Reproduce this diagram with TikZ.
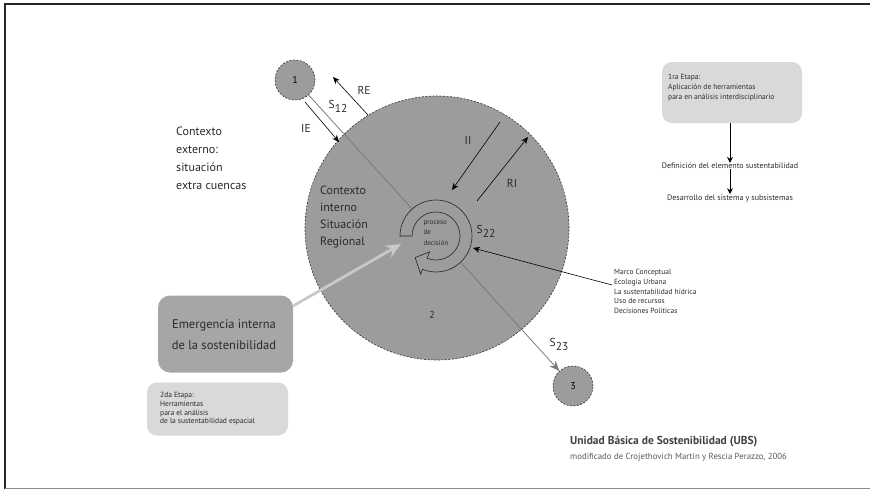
\documentclass[tikz,border=0pt]{standalone}
\usepackage{fontspec}
\setmainfont{PT Sans}
\usetikzlibrary{arrows.meta,calc}
\definecolor{cgray}{HTML}{9C9C9C}
\definecolor{egray}{HTML}{A6A6A6}
\definecolor{lgray}{HTML}{D9D9D9}
\definecolor{sgray}{HTML}{7A7A7A}
\definecolor{agray}{HTML}{C9C9C9}
\definecolor{tgray}{HTML}{2A2A2A}
\begin{document}
\begin{tikzpicture}[x=1pt,y=-1pt,
  bigc/.style={circle,draw=black!80,dash pattern=on 2pt off 1.5pt,fill=cgray,line width=0.6pt,inner sep=0},
  smallc/.style={circle,draw=black!80,dash pattern=on 2pt off 1.5pt,fill=cgray,line width=0.6pt,minimum size=40pt,inner sep=0,font=\fontsize{10}{12}\selectfont},
  flow/.style={draw=black,line width=0.6pt,-{Stealth[length=7pt,width=6pt]}},
  lbl/.style={inner sep=0,font=\fontsize{11.5}{13}\selectfont,text=tgray},
  small/.style={inner sep=0,align=left,anchor=north west,font=\fontsize{7.5}{10}\selectfont,text=tgray},
  lightbox/.style={fill=lgray,rounded corners=10pt,draw=none},
]
\useasboundingbox (0,0) rectangle (870,498);
% frame
\draw[line width=2.2pt,black!85] (5,489) -- (5,4) -- (870,4);
\draw[line width=0.8pt,black!45] (5,488) -- (870,488);

% big circle and small circles
\node[bigc,minimum size=264pt] (big) at (437,228) {};
\node[smallc] (c1) at (295,80) {1};
\node[smallc] (c3) at (573,386) {3};

% S line from 1 to 3
\draw[sgray,line width=0.8pt,-{Stealth[length=10pt,width=8pt]}] (c1) -- (c3);

% spiral (process of decision)
\coordinate (sp) at (436,236);
\fill[cgray] (sp) circle[radius=24];
\draw[fill=cgray,draw=black!85,line width=0.6pt]
  ($(sp)+(180:36)$) arc[start angle=180,end angle=472,radius=36]
  -- ($(sp)+(472:41)$) -- ($(sp)+(494:30)$) -- ($(sp)+(472:17)$)
  -- ($(sp)+(472:24)$) arc[start angle=472,end angle=180,radius=24] -- cycle;
\node[inner sep=0,align=left,font=\fontsize{7}{10.5}\selectfont,text=tgray] (proc) at (436,233) {proceso\\de\\decisión};

% arrows around circle 1
\coordinate (reA) at (368,115);
\coordinate (reB) at (333,77);
\draw[flow] (reA) -- (reB);
\coordinate (ieA) at (305,102);
\coordinate (ieB) at (339,142);
\draw[flow] (ieA) -- (ieB);
\node[lbl] (RE) at (364,90) {RE};
\node[lbl] (IE) at (306,128) {IE};
\node[lbl] (S12) at (338,106) {S\raisebox{-4pt}{12}};

% II and RI
\coordinate (iiA) at (500,122);
\coordinate (iiB) at (452,190);
\draw[flow] (iiA) -- (iiB);
\coordinate (riA) at (477,201);
\coordinate (riB) at (528,137);
\draw[flow] (riA) -- (riB);
\node[lbl] (II) at (468,140) {II};
\node[lbl] (RI) at (512,183) {RI};
\node[lbl] (S22) at (486,231) {S\raisebox{-4pt}{22}};
\node[lbl] (S23) at (559,344) {S\raisebox{-4pt}{23}};
\node[inner sep=0,font=\fontsize{10}{12}\selectfont,text=tgray] (two) at (432,315) {2};

% contexto texts
\node[inner sep=0,align=left,anchor=north west,font=\fontsize{12}{18}\selectfont,text=tgray] (ext) at (176,127)
  {Contexto\\externo:\\situación\\extra cuencas};
\node[inner sep=0,align=left,anchor=north west,font=\fontsize{12}{16.8}\selectfont,text=tgray] (int) at (320,186)
  {Contexto\\interno\\Situación\\Regional};

% 1ra etapa
\node[lightbox,minimum width=140pt,minimum height=61pt] (box1) at (732,92.5) {};
\node[small] (t1) at (668,74) {1ra Etapa:\\Aplicación de herramientas\\para en análisis interdisciplinario};
\node[inner sep=0,font=\fontsize{8}{10}\selectfont,text=tgray] (def) at (730,166) {Definición del elemento sustentabilidad};
\node[inner sep=0,font=\fontsize{8}{10}\selectfont,text=tgray] (des) at (730,198) {Desarrollo del sistema y subsistemas};
\draw[black,line width=1pt,-{Stealth[length=6pt,width=6pt]}] (box1.south -| def.north) -- (def.north);
\draw[black,line width=1pt,-{Stealth[length=6pt,width=6pt]}] (def.south) -- (des.north);

% Marco list
\node[small,font=\fontsize{7.5}{9.8}\selectfont] (marco) at (614,269)
  {Marco Conceptual\\Ecología Urbana\\La sustentabilidad hídrica\\Uso de recursos\\Decisiones Políticas};
\coordinate (mA) at (612,285);
\coordinate (mB) at (473,248);
\draw[flow] (mA) -- (mB);

% Emergencia box
\node[fill=egray,rounded corners=12pt,minimum width=135pt,minimum height=77pt,inner sep=0] (emer) at (225.5,334) {};
\node[inner sep=0,align=center,font=\fontsize{12.5}{21}\selectfont,text=tgray] (emt) at (224,335) {Emergencia interna\\de la sostenibilidad};
\coordinate (eA) at (293,306);
\coordinate (eB) at (401,244);
\draw[agray,line width=2.8pt,-{Stealth[length=15pt,width=13pt]}] (eA) -- (eB);

% 2da etapa
\node[lightbox,minimum width=141pt,minimum height=53pt] (box2) at (217.5,409) {};
\node[small,font=\fontsize{7.5}{8.8}\selectfont] (t2) at (160,392) {2da Etapa:\\Herramientas\\para el análisis\\de la sustentabilidad espacial};

% title
\node[inner sep=0,anchor=west,font=\bfseries\fontsize{11.5}{13}\selectfont,text=black!75] (title) at (570,442) {Unidad Básica de Sostenibilidad (UBS)};
\node[inner sep=0,anchor=west,font=\fontsize{8.8}{10}\selectfont,text=black!65] (sub) at (570,457) {modificado de Crojethovich Martin y Rescia Perazzo, 2006};
\end{tikzpicture}
\end{document}
